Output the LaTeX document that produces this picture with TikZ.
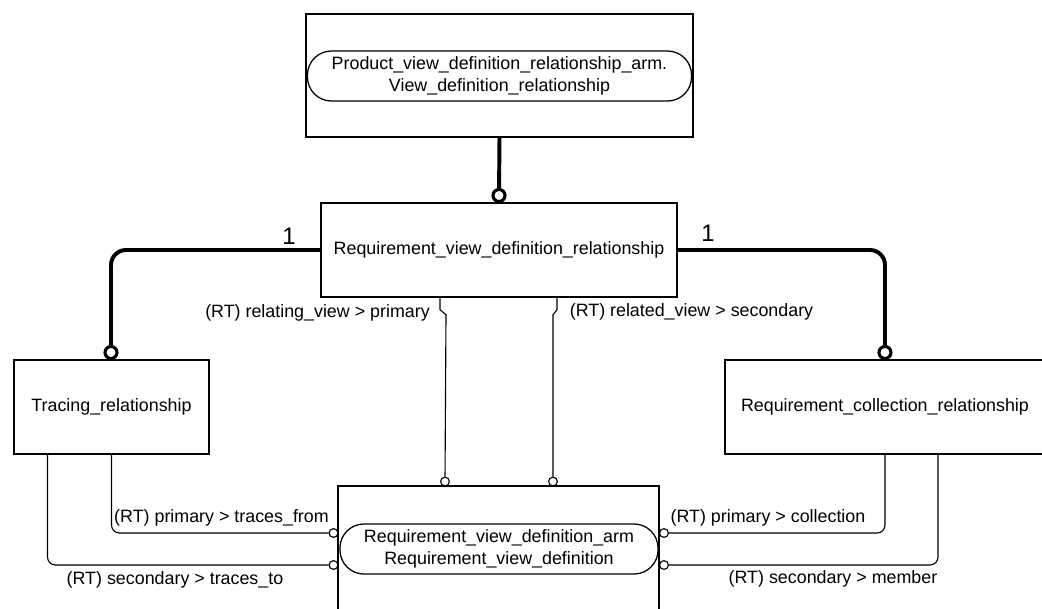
\documentclass[tikz,border=0pt]{standalone}
\usepackage{fontspec}
\setmainfont{Liberation Sans}
\usetikzlibrary{calc}

\begin{document}
\begin{tikzpicture}[x=0.025cm, y=-0.025cm]
	\tikzstyle{box} = [draw, line width=1pt, inner sep=0, font=\fontsize{12.7}{15}\selectfont]
	\tikzstyle{pill} = [draw, line width=0.9pt, rounded corners=0.6cm, minimum height=1.25cm, inner sep=0, align=center, font=\fontsize{12.7}{15.6}\selectfont]
	\tikzstyle{ring} = [shape=circle, draw, line width=2.2pt, minimum size=0.3cm, inner sep=0, fill=white]
	\tikzstyle{smallring} = [shape=circle, draw, line width=0.8pt, minimum size=0.22cm, inner sep=0, fill=white]
	\tikzstyle{thickline} = [draw, line width=2.8pt, rounded corners=0.375cm]
	\tikzstyle{thinline} = [draw, line width=0.8pt, rounded corners=0.2cm]
	\tikzstyle{lbl} = [inner sep=1pt, font=\fontsize{12.7}{15}\selectfont]

	\useasboundingbox (0,0) rectangle (1042,608);
	\clip (0,0) rectangle (1042,608);

	% entities
	\node [box, minimum width=9.675cm, minimum height=3.075cm] (pvdr) at (499.5,75.5) {};
	\node [pill, minimum width=9.6cm] (pvdrarm) at (499.5,76) {Product\_view\_definition\_relationship\_arm.\\View\_definition\_relationship};
	\node [box, minimum width=8.9cm, minimum height=2.35cm] (rvdr) at (499,250) {Requirement\_view\_definition\_relationship};
	\node [box, minimum width=4.875cm, minimum height=2.35cm] (trace) at (111.5,407) {Tracing\_relationship};
	\node [box, minimum width=8cm, minimum height=2.35cm] (rcr) at (885,407) {Requirement\_collection\_relationship};
	\node [box, minimum width=8.025cm, minimum height=3.35cm] (rvd) at (498.5,553) {};
	\node [pill, minimum width=7.95cm] (rvdarm) at (499,549) {Requirement\_view\_definition\_arm\\Requirement\_view\_definition};

	% rings
	\node [ring] (o1) at (499,195.5) {};
	\node [ring] (o2) at (111,352.5) {};
	\node [ring] (o3) at (885,352.5) {};
	\node [smallring] (o4) at (445,481.5) {};
	\node [smallring] (o5) at (553,481.5) {};
	\node [smallring] (o6) at (333.5,533) {};
	\node [smallring] (o7) at (333.5,565) {};
	\node [smallring] (o8) at (664,533) {};
	\node [smallring] (o9) at (664,565) {};

	% supertype lines
	\draw [thickline] (pvdr.south) -- (o1);
	\draw [thickline] (rvdr.west) -| (o2);
	\draw [thickline] (rvdr.east) -| (o3);
	\node [lbl, font=\fontsize{17}{20}\selectfont] (one1) at (289,236) {1};
	\node [lbl, font=\fontsize{17}{20}\selectfont] (one2) at (708,233) {1};

	% attribute lines
	\draw [thinline, sharp corners] ($(rvdr.south)+(-59,0)$) -- ++(0,12) -- ++(6,5) -- (o4);
	\draw [thinline, sharp corners] ($(rvdr.south)+(58,0)$) -- ++(0,12) -- ++(-4,5) -- (o5);
	\node [lbl] (relating) at (317.5,313) {(RT) relating\_view > primary};
	\node [lbl] (related) at (691.5,312) {(RT) related\_view > secondary};

	\draw [thinline] (trace.south) |- (o6);
	\draw [thinline] ($(trace.south)+(-64,0)$) |- (o7);
	\node [lbl] (tfrom) at (221.5,518) {(RT) primary > traces\_from};
	\node [lbl] (tto) at (175,580) {(RT) secondary > traces\_to};

	\draw [thinline] (rcr.south) |- (o8);
	\draw [thinline] ($(rcr.south)+(53,0)$) |- (o9);
	\node [lbl] (coll) at (768,518) {(RT) primary > collection};
	\node [lbl] (memb) at (833,579) {(RT) secondary > member};
\end{tikzpicture}
\end{document}
